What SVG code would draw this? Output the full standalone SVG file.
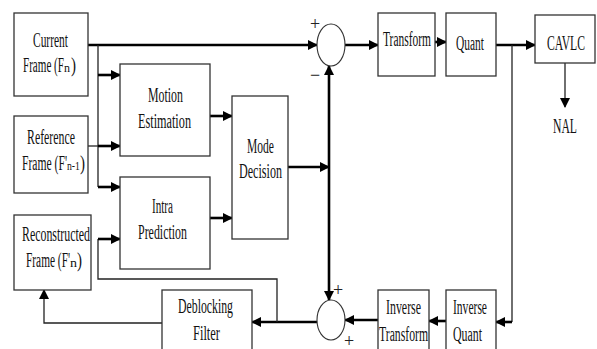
<svg xmlns="http://www.w3.org/2000/svg" width="597" height="349" viewBox="0 0 597 349">
<defs>
<marker id="ah" markerUnits="userSpaceOnUse" markerWidth="10" markerHeight="10" viewBox="0 0 10 10" refX="9" refY="5" orient="auto">
<path d="M0,0 L10,5 L0,10 z" fill="#000"/>
</marker>
</defs>
<style>
.box{fill:#fff;stroke:#333;stroke-width:1.3}
.t{font-family:"Liberation Serif","Times New Roman",serif;font-size:20px;fill:#111}
.s{font-size:13px}
.thick{fill:none;stroke:#000;stroke-width:2.6}
.thin{fill:none;stroke:#222;stroke-width:1.3}
.sum{fill:#fff;stroke:#333;stroke-width:1.1}
.sg{font-family:"Liberation Serif",serif;font-size:18px;fill:#222}
</style>
<rect width="597" height="349" fill="#fff"/>
<g id="connectors">
<path class="thick" d="M88,45 H317" marker-end="url(#ah)"/>
<path class="thin" d="M98,45 V187"/>
<path class="thick" d="M98,75 H120" marker-end="url(#ah)"/>
<path class="thin" d="M88,146 H98"/>
<path class="thick" d="M98,146 H120" marker-end="url(#ah)"/>
<path class="thick" d="M98,187 H120" marker-end="url(#ah)"/>
<path class="thick" d="M210,116 H232" marker-end="url(#ah)"/>
<path class="thick" d="M210,218 H232" marker-end="url(#ah)"/>
<path class="thick" d="M288,167 H329" marker-end="url(#ah)"/>
<path class="thick" d="M329,167 V66" marker-end="url(#ah)"/>
<path class="thick" d="M329,167 V300" marker-end="url(#ah)"/>
<path class="thick" d="M345,45 H378" marker-end="url(#ah)"/>
<path class="thick" d="M435,42 H446" marker-end="url(#ah)"/>
<path class="thick" d="M496,45 H535" marker-end="url(#ah)"/>
<path class="thin" d="M565,63 V107" marker-end="url(#ah)"/>
<path class="thin" d="M512,45 V322"/>
<path class="thick" d="M512,322 H496" marker-end="url(#ah)"/>
<path class="thick" d="M446,321 H429" marker-end="url(#ah)"/>
<path class="thick" d="M378,320 H345" marker-end="url(#ah)"/>
<path class="thick" d="M317,322 H252" marker-end="url(#ah)"/>
<path class="thin" d="M162,323 H44 V290" marker-end="url(#ah)"/>
<path class="thin" d="M277,322 V279 H98 V239"/>
<path class="thick" d="M98,239 H120" marker-end="url(#ah)"/>
</g>
<g id="current"><rect class="box" x="14" y="13" width="74" height="83"/>
<text class="t" x="33" y="47" textLength="35" lengthAdjust="spacingAndGlyphs">Current</text>
<text class="t" x="23" y="72" textLength="41" lengthAdjust="spacingAndGlyphs">Frame (F</text>
<text class="t s" x="64" y="72" textLength="6" lengthAdjust="spacingAndGlyphs">n</text>
<text class="t" x="71" y="72" textLength="5" lengthAdjust="spacingAndGlyphs">)</text></g>
<g id="reference"><rect class="box" x="14" y="116" width="74" height="77"/>
<text class="t" x="27" y="144" textLength="48" lengthAdjust="spacingAndGlyphs">Reference</text>
<text class="t" x="22" y="170" textLength="45" lengthAdjust="spacingAndGlyphs">Frame (F'</text>
<text class="t s" x="67" y="170" textLength="13" lengthAdjust="spacingAndGlyphs">n-1</text>
<text class="t" x="80" y="170" textLength="5" lengthAdjust="spacingAndGlyphs">)</text></g>
<g id="reconstructed"><rect class="box" x="14" y="215" width="77" height="75"/>
<text class="t" x="22" y="241" textLength="68" lengthAdjust="spacingAndGlyphs">Reconstructed</text>
<text class="t" x="26" y="267" textLength="44" lengthAdjust="spacingAndGlyphs">Frame (F'</text>
<text class="t s" x="70" y="267" textLength="7" lengthAdjust="spacingAndGlyphs">n</text>
<text class="t" x="77" y="267" textLength="5" lengthAdjust="spacingAndGlyphs">)</text></g>
<g id="motion"><rect class="box" x="120" y="64" width="90" height="92"/>
<text class="t" x="148" y="102" textLength="35" lengthAdjust="spacingAndGlyphs">Motion</text>
<text class="t" x="138" y="128" textLength="53" lengthAdjust="spacingAndGlyphs">Estimation</text></g>
<g id="intra"><rect class="box" x="120" y="177" width="90" height="92"/>
<text class="t" x="152" y="213" textLength="21" lengthAdjust="spacingAndGlyphs">Intra</text>
<text class="t" x="138" y="239" textLength="49" lengthAdjust="spacingAndGlyphs">Prediction</text></g>
<g id="mode"><rect class="box" x="232" y="96" width="56" height="143"/>
<text class="t" x="247" y="153" textLength="27" lengthAdjust="spacingAndGlyphs">Mode</text>
<text class="t" x="239" y="178" textLength="43" lengthAdjust="spacingAndGlyphs">Decision</text></g>
<g id="sum1"><ellipse class="sum" cx="331" cy="45" rx="14" ry="21"/>
<text class="sg" x="310" y="30">+</text><text class="sg" x="310" y="81">−</text></g>
<g id="transform"><rect class="box" x="378" y="13" width="57" height="63"/>
<text class="t" x="383" y="46" textLength="48" lengthAdjust="spacingAndGlyphs">Transform</text></g>
<g id="quant"><rect class="box" x="446" y="13" width="50" height="63"/>
<text class="t" x="456" y="50" textLength="28" lengthAdjust="spacingAndGlyphs">Quant</text></g>
<g id="cavlc"><rect class="box" x="535" y="15" width="60" height="48"/>
<text class="t" x="547" y="50" textLength="38" lengthAdjust="spacingAndGlyphs">CAVLC</text></g>
<g id="nal"><text class="t" x="553" y="133" textLength="24" lengthAdjust="spacingAndGlyphs">NAL</text></g>
<g id="sum2"><ellipse class="sum" cx="331" cy="320" rx="14" ry="20"/>
<text class="sg" x="333" y="296">+</text><text class="sg" x="344" y="347">+</text></g>
<g id="deblocking"><rect class="box" x="162" y="290" width="90" height="70"/>
<text class="t" x="178" y="313" textLength="55" lengthAdjust="spacingAndGlyphs">Deblocking</text>
<text class="t" x="193" y="340" textLength="27" lengthAdjust="spacingAndGlyphs">Filter</text></g>
<g id="invtransform"><rect class="box" x="378" y="290" width="51" height="70"/>
<text class="t" x="386" y="314" textLength="35" lengthAdjust="spacingAndGlyphs">Inverse</text>
<text class="t" x="379" y="341" textLength="49" lengthAdjust="spacingAndGlyphs">Transform</text></g>
<g id="invquant"><rect class="box" x="446" y="290" width="50" height="70"/>
<text class="t" x="453" y="314" textLength="34" lengthAdjust="spacingAndGlyphs">Inverse</text>
<text class="t" x="453" y="341" textLength="29" lengthAdjust="spacingAndGlyphs">Quant</text></g>
</svg>
